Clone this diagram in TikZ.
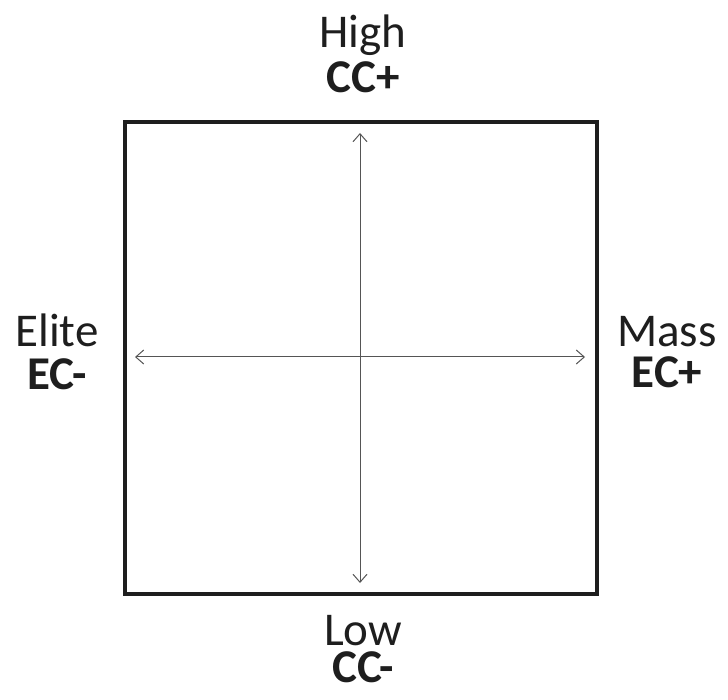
\documentclass[tikz,border=0pt]{standalone}
\usepackage{fontspec}
\setmainfont{Carlito}
\usetikzlibrary{arrows.meta}
\definecolor{ink}{HTML}{1E1E1E}
\definecolor{axisgray}{HTML}{555555}
\tikzset{
  lbl/.style={anchor=base, inner sep=0pt, text=ink, text depth=0pt, font=\fontsize{47}{56}\selectfont},
  blbl/.style={lbl, font=\fontsize{47}{56}\selectfont\bfseries},
  frame/.style={draw=ink, line width=4pt},
  axis/.style={draw=axisgray, line width=1pt, {Straight Barb[length=8pt,width=14pt]}-{Straight Barb[length=8pt,width=14pt]}}
}
\begin{document}
\begin{tikzpicture}[x=1pt,y=-1pt]
\useasboundingbox (0,0) rectangle (728,700);
\draw[frame] (125,122) rectangle (597,594);
\coordinate (top) at (360,133);
\coordinate (bot) at (360,583);
\coordinate (lft) at (135,357);
\coordinate (rgt) at (585,357);
\draw[axis] (top) -- (bot);
\draw[axis] (lft) -- (rgt);
\node[lbl]  (high) at (363,48) {High};
\node[blbl] (ccp)  at (363,93) {CC+};
\node[lbl]  (elite) at (57,347) {Elite};
\node[blbl] (ecm)  at (57,389) {EC-};
\node[lbl]  (mass) at (667,347) {Mass};
\node[blbl] (ecp)  at (667,388) {EC+};
\node[lbl]  (low)  at (363,645) {Low};
\node[blbl] (ccm)  at (363,682) {CC-};
\end{tikzpicture}
\end{document}
